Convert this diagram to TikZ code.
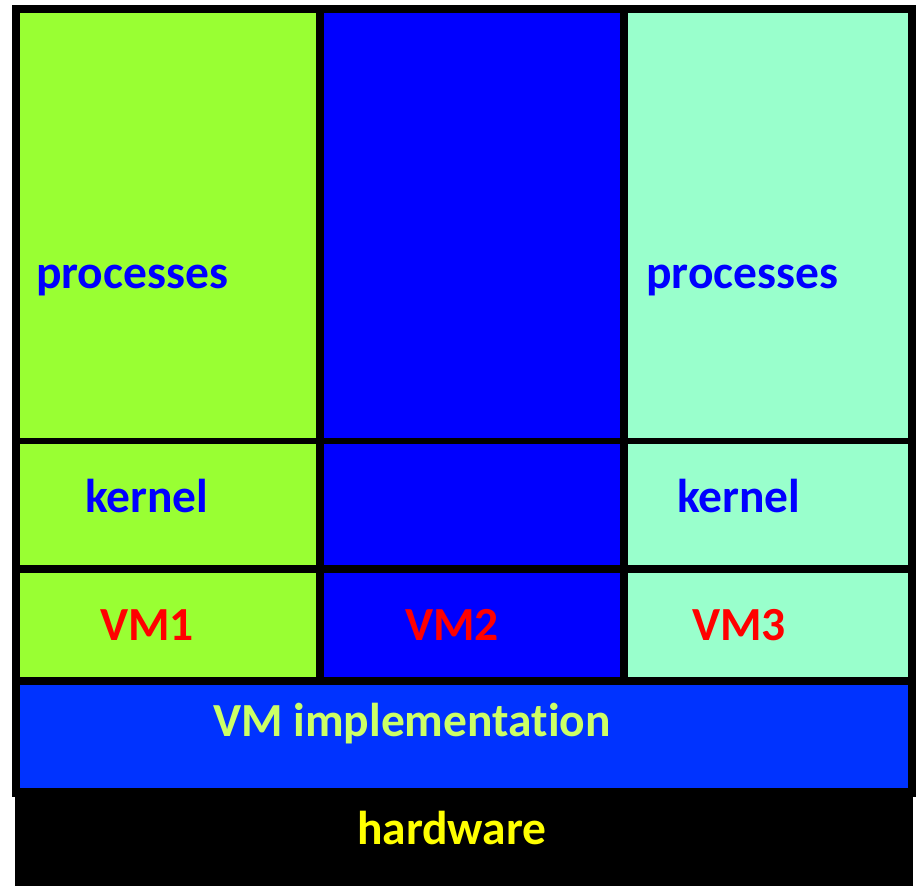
\documentclass[tikz,border=0pt]{standalone}
\usepackage{fontspec}
\setmainfont{Carlito}[Ligatures={NoCommon}]
\definecolor{limegreen}{HTML}{99FF33}
\definecolor{purecolblue}{HTML}{0000FF}
\definecolor{aquamint}{HTML}{99FFCC}
\definecolor{implblue}{HTML}{0033FF}
\definecolor{impltext}{HTML}{CCFF66}
\definecolor{hwtext}{HTML}{FFFF00}
\tikzset{
  lbl/.style={anchor=base west, inner sep=0pt, font=\fontsize{47.5}{52}\selectfont\bfseries},
  proclbl/.style={lbl, text=purecolblue},
  vmlbl/.style={lbl, text=red},
}
\begin{document}
\begin{tikzpicture}[x=1pt, y=-1pt]
  \useasboundingbox (0,0) rectangle (919,886);
  % black frame and hardware base
  \fill[black] (12,5) rectangle (916,797);
  \fill[black] (15,797) rectangle (913,886);
  % VM1 column
  \fill[limegreen] (20,13) rectangle (316,438);
  \fill[limegreen] (20,444) rectangle (316,565);
  \fill[limegreen] (20,573) rectangle (316,677);
  % VM2 column
  \fill[purecolblue] (324,13) rectangle (620,438);
  \fill[purecolblue] (324,444) rectangle (620,565);
  \fill[purecolblue] (324,573) rectangle (620,677);
  % VM3 column
  \fill[aquamint] (628,13) rectangle (908,438);
  \fill[aquamint] (628,444) rectangle (908,565);
  \fill[aquamint] (628,573) rectangle (908,677);
  % VM implementation layer
  \fill[implblue] (20,685) rectangle (908,788);
  % labels
  \node[proclbl] (proc1) at (36,288) {processes};
  \node[proclbl] (proc3) at (646,288) {processes};
  \node[proclbl] (kern1) at (85,512) {kernel};
  \node[proclbl] (kern3) at (677,512) {kernel};
  \node[vmlbl] (vm1) at (100,640) {VM1};
  \node[vmlbl] (vm2) at (405,640) {VM2};
  \node[vmlbl] (vm3) at (692,640) {VM3};
  \node[lbl, text=impltext] (impl) at (213,736) {VM implementation};
  \node[lbl, text=hwtext] (hw) at (357,844) {hardware};
\end{tikzpicture}
\end{document}
